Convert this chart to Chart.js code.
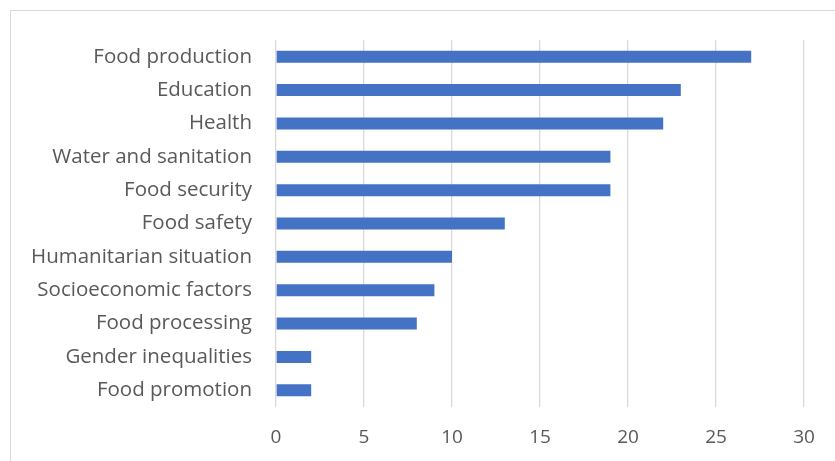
<!DOCTYPE html>
<html>
<head>
<meta charset="utf-8">
<script src="https://cdn.jsdelivr.net/npm/chart.js@4.4.1/dist/chart.umd.min.js"></script>
<style>
  html, body { margin: 0; padding: 0; background: #fff; }
  #wrap { position: relative; width: 835px; height: 461px; overflow: hidden; }
  #frame { position: absolute; left: 10px; top: 10px; width: 840px; height: 470px;
           border: 1.5px solid #d9d9d9; box-sizing: border-box; }
  canvas { position: absolute; left: 0; top: 0; }
</style>
</head>
<body>
<div id="wrap">
  <div id="frame"></div>
  <canvas id="chart" width="835" height="461"></canvas>
</div>
<script>
var categories = [
  'Food production', 'Education', 'Health', 'Water and sanitation',
  'Food security', 'Food safety', 'Humanitarian situation',
  'Socioeconomic factors', 'Food processing', 'Gender inequalities',
  'Food promotion'
];
var counts = [27, 23, 22, 19, 19, 13, 10, 9, 8, 2, 2];
var xTicks = [0, 5, 10, 15, 20, 25, 30];

var textColor = '#595959';
var gridColor = '#d9d9d9';
var labelFont = { family: 'Open Sans', size: 20.5 };
var tickFont = { family: 'Open Sans', size: 19 };

new Chart(document.getElementById('chart'), {
  type: 'bar',
  data: {
    labels: categories,
    datasets: [{
      data: counts,
      backgroundColor: '#4472c4',
      borderWidth: 0,
      barPercentage: 0.36,
      categoryPercentage: 1
    }]
  },
  options: {
    indexAxis: 'y',
    responsive: false,
    animation: false,
    layout: { padding: { left: 0, top: 40, right: 31, bottom: 0 } },
    plugins: { legend: { display: false }, tooltip: { enabled: false } },
    scales: {
      x: {
        min: 0,
        max: 30,
        afterBuildTicks: function (axis) {
          axis.ticks = xTicks.map(function (v) { return { value: v }; });
        },
        afterFit: function (axis) { axis.height = 54; },
        grid: { color: gridColor, lineWidth: 1.3, drawTicks: false },
        border: { display: false },
        ticks: { color: textColor, font: tickFont, padding: 19 }
      },
      y: {
        afterFit: function (axis) { axis.width = 276; },
        grid: { display: false, drawTicks: false },
        border: { display: false },
        ticks: { color: textColor, font: labelFont, padding: 24, autoSkip: false }
      }
    }
  }
});
</script>
</body>
</html>
